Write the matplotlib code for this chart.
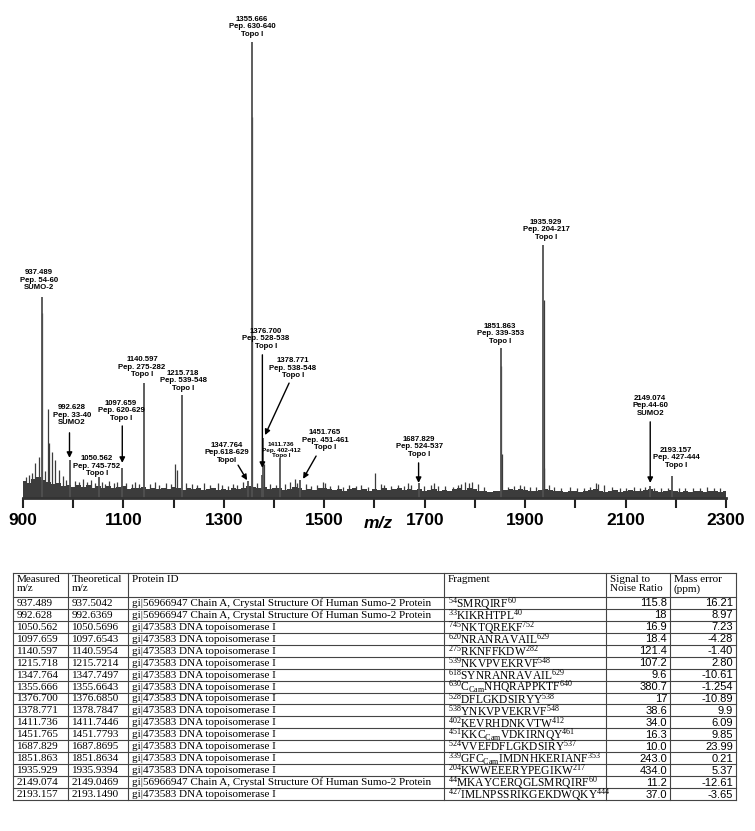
import numpy as np
import matplotlib
matplotlib.use('Agg')
import matplotlib.pyplot as plt

plt.rcParams['font.family'] = 'Liberation Sans'
plt.rcParams['mathtext.fontset'] = 'custom'
plt.rcParams['mathtext.rm'] = 'Liberation Serif'
plt.rcParams['mathtext.it'] = 'Liberation Serif:italic'
plt.rcParams['mathtext.bf'] = 'Liberation Serif:bold'

# ---- table data ----
measured = ['937.489', '992.628', '1050.562', '1097.659', '1140.597', '1215.718',
            '1347.764', '1355.666', '1376.700', '1378.771', '1411.736', '1451.765',
            '1687.829', '1851.863', '1935.929', '2149.074', '2193.157']
theoretical = ['937.5042', '992.6369', '1050.5696', '1097.6543', '1140.5954', '1215.7214',
               '1347.7497', '1355.6643', '1376.6850', '1378.7847', '1411.7446', '1451.7793',
               '1687.8695', '1851.8634', '1935.9394', '2149.0469', '2193.1490']
sumo = 'gi|56966947 Chain A, Crystal Structure Of Human Sumo-2 Protein'
topo = 'gi|473583 DNA topoisomerase I'
protein = [sumo, sumo, topo, topo, topo, topo, topo, topo, topo, topo, topo, topo,
           topo, topo, topo, sumo, topo]
fragment = [r'$^{54}$SMRQIRF$^{60}$',
            r'$^{33}$KIKRHTPL$^{40}$',
            r'$^{745}$NKTQREKF$^{752}$',
            r'$^{620}$NRANRAVAIL$^{629}$',
            r'$^{275}$RKNFFKDW$^{282}$',
            r'$^{539}$NKVPVEKRVF$^{548}$',
            r'$^{618}$SYNRANRAVAIL$^{629}$',
            r'$^{630}$C$_{\mathrm{Cam}}$NHQRAPPKTF$^{640}$',
            r'$^{528}$DFLGKDSIRYY$^{538}$',
            r'$^{538}$YNKVPVEKRVF$^{548}$',
            r'$^{402}$KEVRHDNKVTW$^{412}$',
            r'$^{451}$KKC$_{\mathrm{Cam}}$VDKIRNQY$^{461}$',
            r'$^{524}$VVEFDFLGKDSIRY$^{537}$',
            r'$^{339}$GFC$_{\mathrm{Cam}}$IMDNHKERIANF$^{353}$',
            r'$^{204}$KWWEEERYPEGIKW$^{217}$',
            r'$^{44}$MKAYCERQGLSMRQIRF$^{60}$',
            r'$^{427}$IMLNPSSRIKGEKDWQKY$^{444}$']
signal_noise = ['115.8', '18', '16.9', '18.4', '121.4', '107.2', '9.6', '380.7', '17',
                '38.6', '34.0', '16.3', '10.0', '243.0', '434.0', '11.2', '37.0']
mass_error = ['16.21', '8.97', '7.23', '-4.28', '-1.40', '2.80', '-10.61', '-1.254',
              '-10.89', '9.9', '6.09', '9.85', '23.99', '0.21', '5.37', '-12.61', '-3.65']
headers = ['Measured\nm/z', 'Theoretical\nm/z', 'Protein ID', 'Fragment',
           'Signal to\nNoise Ratio', 'Mass error\n(ppm)']

# ---- spectrum data (relative intensity, %) ----
peak_mz = [float(m) for m in measured]
peak_int = [44.0, 8.3, 4.5, 6.6, 25.2, 22.6, 3.8, 100.0, 5.0, 13.2, 8.8, 3.9,
            3.3, 32.9, 55.5, 2.6, 4.9]
pep = ['Pep. 54-60', 'Pep. 33-40', 'Pep. 745-752', 'Pep. 620-629', 'Pep. 275-282',
       'Pep. 539-548', 'Pep.618-629', 'Pep. 630-640', 'Pep. 528-538', 'Pep. 538-548',
       'Pep. 402-412', 'Pep. 451-461', 'Pep. 524-537', 'Pep. 339-353', 'Pep. 204-217',
       'Pep.44-60', 'Pep. 427-444']
prot_short = ['SUMO-2', 'SUMO2', 'Topo I', 'Topo I', 'Topo I', 'Topo I', 'TopoI',
              'Topo I', 'Topo I', 'Topo I', 'Topo I', 'Topo I', 'Topo I', 'Topo I',
              'Topo I', 'SUMO2', 'Topo I']

minor_mz = [905, 912, 918, 924, 932, 938.5, 943, 949, 952, 958,
            964, 972, 980, 986, 1003, 1011, 1019, 1027, 1035, 1043,
            1058, 1064, 1072, 1081, 1088, 1106, 1117, 1124, 1132, 1152,
            1163, 1171, 1184, 1195, 1203, 1206, 1224, 1236, 1247, 1260,
            1272, 1288, 1297, 1309, 1318, 1327, 1339, 1356.67, 1366, 1379.8,
            1392, 1403, 1421, 1432, 1441, 1446, 1463, 1474, 1486, 1498,
            1502, 1511, 1527, 1538, 1549, 1563, 1574, 1588, 1601, 1612,
            1619, 1632, 1646, 1658, 1667, 1673, 1698, 1712, 1719, 1727,
            1741, 1756, 1766, 1773, 1781, 1788, 1795, 1806, 1818, 1852.87,
            1853.9, 1866, 1877, 1889, 1898, 1909, 1921, 1936.93, 1938, 1947,
            1958, 1971, 1989, 2003, 2017, 2029, 2041, 2046, 2058, 2072,
            2088, 2101, 2117, 2128, 2138, 2156, 2171, 2185, 2207, 2219,
            2234, 2249, 2262, 2276, 2288]
minor_int = [4.5, 5.0, 5.5, 7.7, 9.0, 40.6, 6.0, 19.5, 12.0, 10.0,
             8.4, 6.2, 4.8, 4.0, 3.8, 3.5, 4.2, 3.4, 4.0, 3.3,
             3.5, 3.0, 3.7, 3.2, 3.4, 3.3, 3.0, 3.5, 3.1, 3.0,
             3.4, 2.9, 3.2, 3.0, 7.5, 6.2, 3.3, 3.0, 2.8, 3.2,
             2.8, 3.3, 2.9, 2.7, 3.0, 2.8, 3.4, 83.5, 3.2, 7.5,
             3.0, 2.8, 3.0, 3.4, 4.2, 3.2, 3.0, 2.7, 2.9, 3.5,
             3.3, 2.7, 2.9, 2.5, 2.8, 2.6, 2.9, 2.5, 5.5, 3.0,
             2.8, 2.6, 2.9, 2.6, 3.2, 2.8, 2.6, 2.8, 3.2, 2.6,
             2.7, 2.5, 2.9, 3.1, 3.5, 3.3, 3.6, 3.0, 2.5, 29.0,
             9.6, 2.5, 2.7, 2.8, 2.6, 2.4, 2.5, 43.5, 6.6, 2.8,
             2.5, 2.3, 2.4, 2.3, 2.2, 2.4, 3.3, 3.0, 2.9, 2.4,
             2.3, 2.2, 2.4, 2.2, 2.4, 2.3, 2.2, 2.3, 2.3, 2.2,
             2.2, 2.3, 2.4, 2.2, 2.3]

# baseline noise level, one value every 10 m/z from 900 to 2300
grass = [3.8, 3.2, 4.1, 4.6, 4.0, 3.4, 3.0, 3.3, 2.7, 2.9,
         2.4, 2.8, 2.5, 2.9, 2.3, 2.7, 2.2, 2.6, 2.1, 2.4,
         2.6, 2.0, 2.3, 2.1, 2.4, 1.9, 2.2, 2.0, 2.3, 1.9,
         2.5, 2.2, 1.8, 2.1, 1.9, 2.2, 1.8, 2.0, 2.2, 1.7,
         2.0, 1.8, 2.1, 1.9, 2.3, 2.6, 2.4, 2.2, 2.5, 1.9,
         2.1, 2.3, 1.8, 2.0, 2.4, 2.2, 1.8, 2.0, 1.7, 2.1,
         2.3, 1.9, 1.7, 2.0, 1.6, 1.9, 2.1, 1.7, 1.9, 1.6,
         2.0, 1.8, 2.1, 1.7, 1.9, 2.2, 1.8, 2.0, 1.7, 1.9,
         1.6, 1.8, 2.0, 1.6, 1.8, 1.5, 1.9, 2.1, 1.8, 2.2,
         1.9, 1.6, 1.5, 1.4, 1.6, 1.5, 1.7, 1.9, 1.8, 2.0,
         1.7, 1.5, 1.6, 1.8, 2.0, 1.7, 1.5, 1.6, 1.4, 1.5,
         1.6, 1.4, 1.5, 1.7, 1.9, 1.6, 1.4, 1.5, 1.7, 1.4,
         1.5, 1.7, 1.5, 1.6, 1.8, 1.9, 1.6, 1.4, 1.5, 1.7,
         1.6, 1.4, 1.5, 1.3, 1.5, 1.6, 1.4, 1.5, 1.6, 1.4, 1.5]
grass_mz = np.linspace(900, 2300, len(grass))

major_ticks = [900, 1100, 1300, 1500, 1700, 1900, 2100, 2300]
minor_ticks = [1000, 1200, 1400, 1600, 1800, 2000, 2200]

# ---- label layout: text centre (m/z, %) and optional arrow (start, end) ----
label_pos = [(931.9, 47.8), (997.6, 18.2), (1047.4, 7.0), (1095.2, 19.1), (1137.0, 28.7),
             (1218.7, 25.7), (1306.4, 9.9), (1356.2, 103.3), (1384.0, 34.9), (1437.8, 28.5),
             (1414.0, 10.5), (1501.6, 12.7), (1688.8, 11.2), (1850.2, 36.0), (1941.8, 58.8),
             (2149.0, 20.2), (2200.8, 8.8)]
arrows = {1: ((992.6, 14.3), (992.6, 8.8)),
          3: ((1097.7, 15.8), (1097.7, 7.7)),
          6: ((1328.3, 7.2), (1346.2, 3.9)),
          8: ((1376.7, 31.4), (1376.7, 6.6)),
          9: ((1429.9, 25.2), (1382.0, 13.8)),
          11: ((1483.7, 9.2), (1457.8, 4.2)),
          12: ((1687.8, 7.7), (1687.8, 3.3)),
          15: ((2149.1, 16.7), (2149.1, 3.3))}

W, H = 755, 831
fig = plt.figure(figsize=(W / 100, H / 100), dpi=100)

# ---- table (drawn in pixel coordinates) ----
tab = fig.add_axes([0, 0, 1, 1])
tab.set_xlim(0, W)
tab.set_ylim(H, 0)
tab.axis('off')
col_x = [13, 68, 128, 444, 606, 670, 736]
top, head_h, row_h = 573, 23.9, 11.95
n = len(measured)
bottom = top + head_h + n * row_h
lc = '#444444'
for x in col_x:
    tab.plot([x, x], [top, bottom], color=lc, lw=0.8)
hl = [top, top + head_h] + [top + head_h + (i + 1) * row_h for i in range(n)]
for y in hl:
    tab.plot([col_x[0], col_x[-1]], [y, y], color=lc, lw=0.8)
serif = 'Liberation Serif'
for j, h in enumerate(headers):
    tab.text(col_x[j] + 4, top + 2.5, h, family=serif, fontsize=8, ha='left', va='top',
             linespacing=0.95)
for i in range(n):
    yc = top + head_h + (i + 0.5) * row_h + 0.5
    tab.text(col_x[0] + 4, yc, measured[i], family=serif, fontsize=8, va='center')
    tab.text(col_x[1] + 4, yc, theoretical[i], family=serif, fontsize=8, va='center')
    tab.text(col_x[2] + 4, yc, protein[i], family=serif, fontsize=8, va='center')
    tab.text(col_x[3] + 4, yc, fragment[i], family=serif, fontsize=8.3, va='center')
    tab.text(col_x[5] - 3, yc, signal_noise[i], fontsize=8, ha='right', va='center')
    tab.text(col_x[6] - 3, yc, mass_error[i], fontsize=8, ha='right', va='center')

# ---- spectrum ----
px_per_pct = 4.56
ax = fig.add_axes([23 / W, 1 - 498 / H, 703 / W, 478 / H], facecolor='none')
ax.set_xlim(900, 2300)
ax.set_ylim(0, 478 / px_per_pct)
sc = '#3c3c3c'
ax.fill_between(grass_mz, 0, grass, step='mid', color=sc, lw=0)
ax.vlines(minor_mz, 0, minor_int, color=sc, lw=0.9)
ax.vlines(peak_mz, 0, peak_int, color='#505050', lw=1.3)

for i, m in enumerate(measured):
    fs = 4.6 if m == '1411.736' else 5.6
    tx, ty = label_pos[i]
    ax.text(tx, ty, f'{m}\n{pep[i]}\n{prot_short[i]}', ha='center', va='center',
            fontsize=fs, fontweight='bold', linespacing=1.15, clip_on=False)
    if i in arrows:
        (x0, y0), (x1, y1) = arrows[i]
        ax.annotate('', xy=(x1, y1), xytext=(x0, y0),
                    arrowprops=dict(arrowstyle='-|>', color='black', lw=1.0,
                                    mutation_scale=8, shrinkA=0, shrinkB=0))

for s in ['left', 'top', 'right']:
    ax.spines[s].set_visible(False)
ax.spines['bottom'].set_linewidth(2.0)
ax.spines['bottom'].set_color('#333333')
ax.set_yticks([])
ax.set_xticks(major_ticks)
ax.set_xticks(minor_ticks, minor=True)
ax.tick_params(axis='x', which='both', direction='out', length=7, width=1.5, color='#222222')
ax.tick_params(axis='x', which='major', labelsize=12.5, pad=4)
for lab in ax.get_xticklabels():
    lab.set_fontweight('bold')
fig.text(378 / W, 1 - 524 / H, 'm/z', ha='center', va='center', fontsize=12.5,
         fontweight='bold', style='italic')

fig.savefig('out.png', dpi=100)
